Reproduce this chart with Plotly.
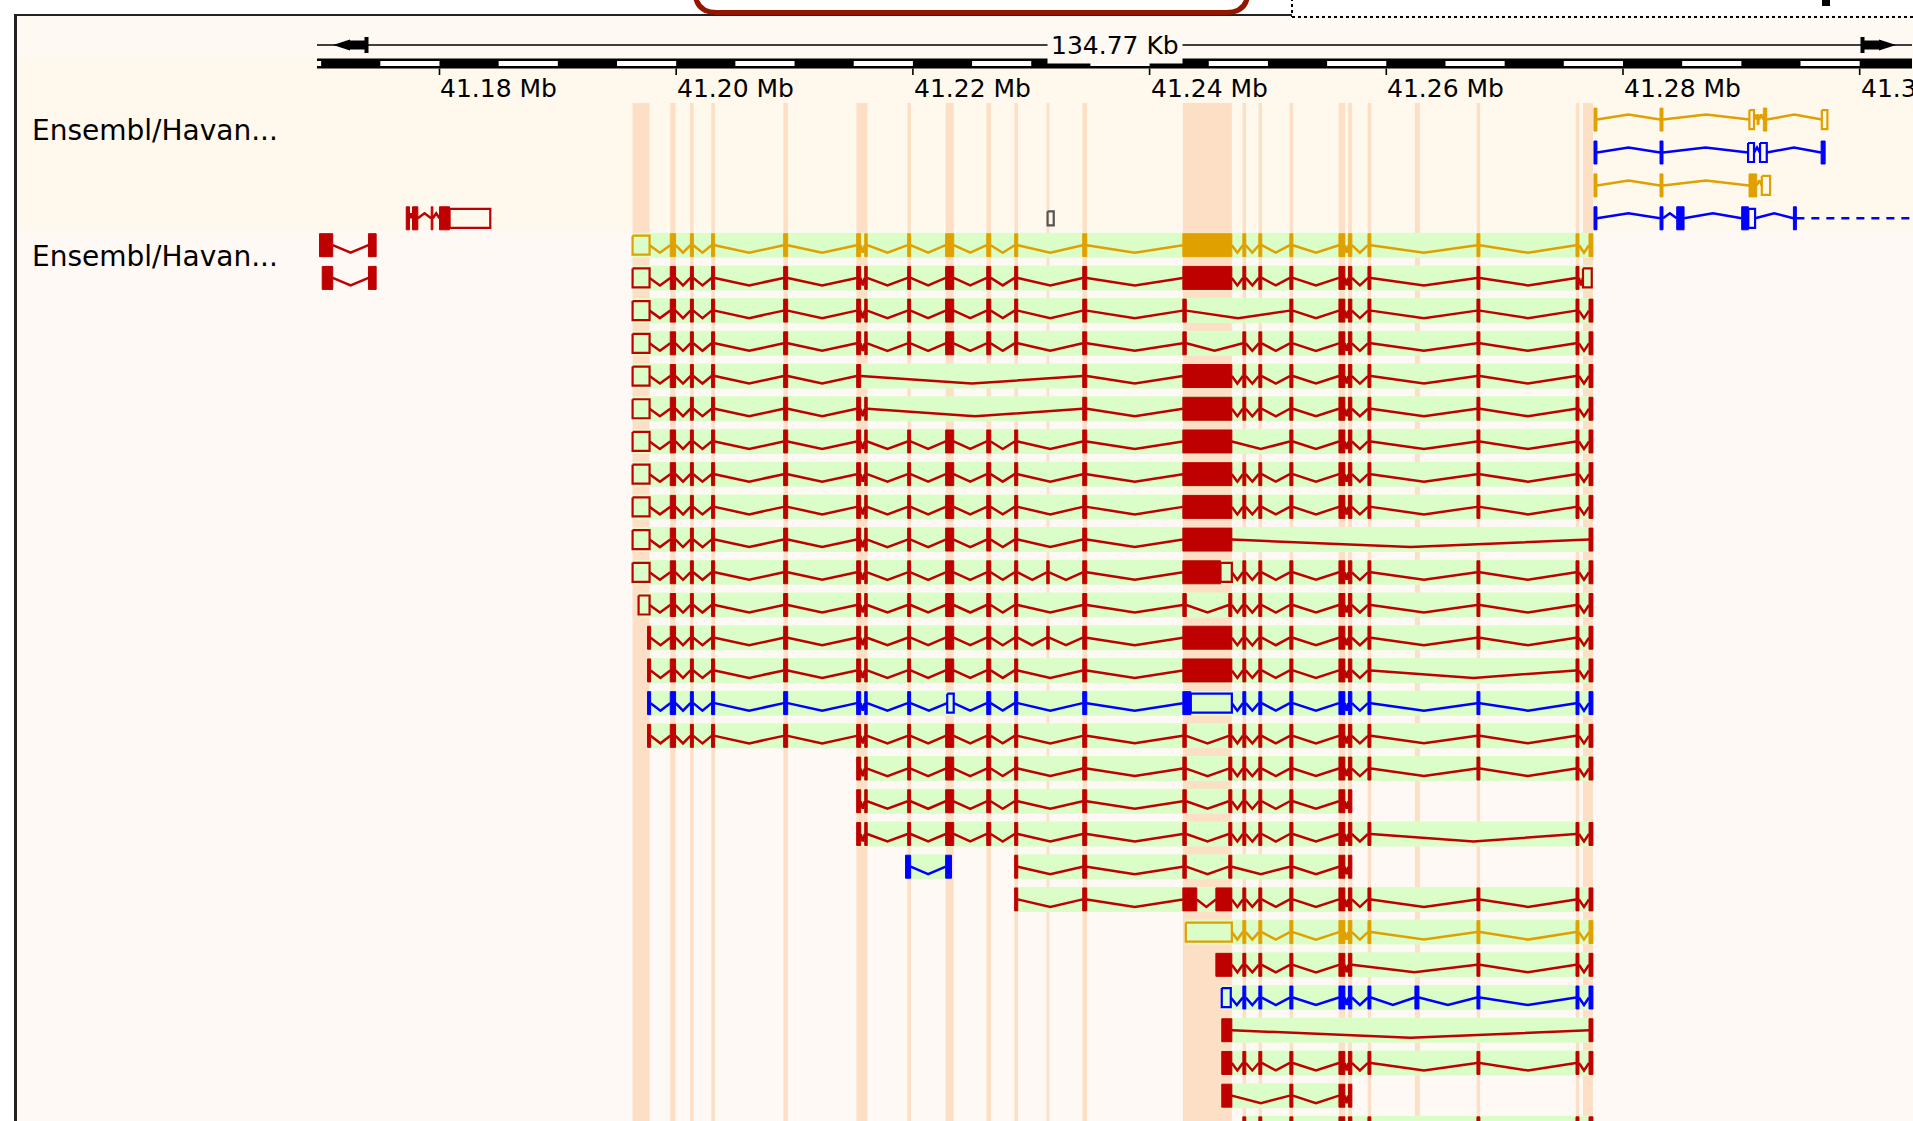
import plotly.graph_objects as go

W, H = 1913, 1121
START = 41.16965
SPAN = 0.13477
END = START + SPAN
PX0, PX1 = 317, 1912

RED, GOLD, BLUE, GREY = "#BE0000", "#E0A000", "#0000FF", "#555555"
GREEN_BAND = "#DBFDC8"
STRIPE = "#FDDFC5"
FONT = "DejaVu Sans"

# ---------------- data ----------------
EXONS = {
    "U0": (41.196315, 41.197751), "U0s": (41.196822, 41.197751), "S1": (41.19758, 41.19784),
    "E1": (41.19950, 41.19995), "E2": (41.20120, 41.20145), "E3": (41.20299, 41.20325),
    "E4": (41.20908, 41.20942), "E5a": (41.21525, 41.21559), "E5b": (41.21593, 41.21614),
    "E6": (41.21956, 41.21981), "E7": (41.22277, 41.22345), "U7": (41.22290, 41.22345),
    "E8": (41.22624, 41.22658), "E9": (41.22860, 41.22886), "EX": (41.23131, 41.23152),
    "E10": (41.23435, 41.23469), "E11": (41.24281, 41.24695),
    "E11s": (41.24281, 41.24310), "E11e": (41.24669, 41.24695),
    "E11a": (41.24281, 41.24599), "U11a": (41.24599, 41.24695),
    "E11b": (41.24281, 41.24399), "E11c": (41.24560, 41.24695),
    "U11d": (41.24306, 41.24695), "U11e": (41.24610, 41.24686), "E11f": (41.24610, 41.24695),
    "E11g": (41.24281, 41.24348), "U11g": (41.24348, 41.24695),
    "E12": (41.24788, 41.24813), "E13": (41.24923, 41.24948), "E14": (41.25185, 41.25211),
    "E15a": (41.25600, 41.25650), "E15b": (41.25680, 41.25709), "E16": (41.25845, 41.25870),
    "EB": (41.26242, 41.26276), "E17": (41.26766, 41.26791), "E18": (41.27603, 41.27628),
    "E19": (41.27713, 41.27746), "U19": (41.27662, 41.27736),
    "L1": (41.16986, 41.17098), "L1b": (41.17009, 41.17098), "L2": (41.17400, 41.17465),
    "B1": (41.21938, 41.21981), "B2": (41.22277, 41.22326),
    "F1": (41.27755, 41.27780), "F2": (41.28313, 41.28338),
    "UA3": (41.29068, 41.29107), "A4": (41.29133, 41.29150), "A5": (41.29186, 41.29215),
    "UA6": (41.29680, 41.29727),
    "UB3": (41.29057, 41.29107), "UB4": (41.29158, 41.29215), "B5": (41.29674, 41.29708),
    "C3": (41.29065, 41.29130), "UC4": (41.29173, 41.29243),
    "D3": (41.28454, 41.28516), "D4": (41.29003, 41.29059), "UD4": (41.29059, 41.29116),
    "D5": (41.29440, 41.29465),
    "R1": (41.17719, 41.17746), "R2": (41.17772, 41.17817), "R3": (41.17930, 41.17944),
    "R4": (41.18000, 41.18085), "UR4": (41.18085, 41.18429),
    "UG1": (41.23138, 41.23190),
}
SMALL = {"A4": 5, "UG1": 7}

MID = ["E1", "E2", "E3", "E4", "E5a", "E5b", "E6", "E7", "E8", "E9", "E10"]
TAIL = ["E12", "E13", "E14", "E15a", "E15b", "E16", "E17", "E18"]

TRACK2 = [
    (0, GOLD, ["U0"] + MID + ["E11"] + TAIL + ["E19"], True),
    (0, RED, ["L1", "L2"], False),
    (1, RED, ["U0"] + MID + ["E11"] + TAIL + ["U19"], True),
    (1, RED, ["L1b", "L2"], False),
    (2, RED, ["U0"] + MID + ["E11s", "E14", "E15a", "E15b", "E16", "E17", "E18", "E19"], True),
    (3, RED, ["U0"] + MID + ["E11s"] + TAIL + ["E19"], True),
    (4, RED, ["U0", "E1", "E2", "E3", "E4", "E5a", "E10", "E11"] + TAIL + ["E19"], True),
    (5, RED, ["U0", "E1", "E2", "E3", "E4", "E5a", "E5b", "E10", "E11"] + TAIL + ["E19"], True),
    (6, RED, ["U0"] + MID + ["E11", "E14", "E15a", "E15b", "E16", "E17", "E18", "E19"], True),
    (7, RED, ["U0"] + MID + ["E11"] + TAIL + ["E19"], True),
    (8, RED, ["U0"] + MID + ["E11"] + TAIL + ["E19"], True),
    (9, RED, ["U0"] + MID + ["E11", "E19"], True),
    (10, RED, ["U0"] + MID[:-1] + ["EX", "E10", "E11a", "U11a"] + TAIL + ["E19"], True),
    (11, RED, ["U0s"] + MID + ["E11s", "E11e"] + TAIL + ["E19"], True),
    (12, RED, ["S1"] + MID[:-1] + ["EX", "E10", "E11"] + TAIL + ["E19"], True),
    (13, RED, ["S1"] + MID + ["E11", "E12", "E13", "E14", "E15a", "E15b", "E16", "E18", "E19"], True),
    (14, BLUE, ["S1", "E1", "E2", "E3", "E4", "E5a", "E5b", "E6", "U7", "E8", "E9", "E10",
                "E11g", "U11g"] + TAIL + ["E19"], True),
    (15, RED, ["S1"] + MID + ["E11s", "E11e"] + TAIL + ["E19"], True),
    (16, RED, MID[4:] + ["E11s", "E11e"] + TAIL + ["E19"], True),
    (17, RED, MID[4:] + ["E11s", "E11e", "E12", "E13", "E14", "E15a", "E15b"], True),
    (18, RED, MID[4:] + ["E11s", "E11e", "E12", "E13", "E14", "E15a", "E15b", "E16", "E18", "E19"], True),
    (19, RED, ["E9", "E10", "E11s", "E11e", "E14", "E15a", "E15b"], True),
    (19, BLUE, ["B1", "B2"], True),
    (20, RED, ["E9", "E10", "E11b", "E11c"] + TAIL + ["E19"], True),
    (21, GOLD, ["U11d"] + TAIL + ["E19"], True),
    (22, RED, ["E11c", "E12", "E13", "E14", "E15a", "E15b", "E17", "E18", "E19"], True),
    (23, BLUE, ["U11e", "E12", "E13", "E14", "E15a", "E15b", "E16", "EB", "E17", "E18", "E19"], True),
    (24, RED, ["E11f", "E19"], True),
    (25, RED, ["E11f"] + TAIL + ["E19"], True),
    (26, RED, ["E11f", "E14", "E15a", "E15b"], True),
    (27, RED, TAIL + ["E19"], True),
]

TRACK1 = [
    (0, GOLD, ["F1", "F2", "UA3", "A4", "A5", "UA6"]),
    (1, BLUE, ["F1", "F2", "UB3", "UB4", "B5"]),
    (2, GOLD, ["F1", "F2", "C3", "UC4"]),
    (3, BLUE, ["F1", "F2", "D3", "D4", "UD4", "D5"]),
    (3, RED, ["R1", "R2", "R3", "R4", "UR4"]),
    (3, GREY, ["UG1"]),
]
DASH_ROW, DASH_COLOR, DASH_FROM = 3, BLUE, "D5"

STRIPES = [(41.196315, 41.197751), (41.19950, 41.19995), (41.20118, 41.20147), (41.20297, 41.20327),
           (41.20906, 41.20944), (41.21523, 41.21616), (41.21954, 41.21983), (41.22277, 41.22345),
           (41.22622, 41.22660), (41.22858, 41.22888), (41.23130, 41.23153), (41.23433, 41.23471),
           (41.24281, 41.24695), (41.24786, 41.24815), (41.24921, 41.24950), (41.25183, 41.25213),
           (41.25598, 41.25652), (41.25678, 41.25711), (41.25843, 41.25872), (41.26242, 41.26284),
           (41.26764, 41.26793), (41.27601, 41.27630), (41.27662, 41.27746)]

TICKS = [41.18, 41.20, 41.22, 41.24, 41.26, 41.28, 41.30]
TICK_LABELS = ["41.18 Mb", "41.20 Mb", "41.22 Mb", "41.24 Mb", "41.26 Mb", "41.28 Mb", "41.30 Mb"]
BLOCK = 0.005
SCALE_TEXT = "134.77 Kb"
TRACK_LABELS = ["Ensembl/Havan...", "Ensembl/Havan..."]

# ---------------- layout constants ----------------
T1_Y0, T1_PITCH = 119.6, 32.9
T2_Y0, T2_PITCH = 245.2, 32.71
BAND_H, EXON_H, BOX_H = 12.5, 11.5, 9.5


def P(px):
    return px / W


shapes = []
annotations = []


def rect(x0, x1, y0, y1, fill, xref="x", layer="below"):
    shapes.append(dict(type="rect", xref=xref, yref="y", x0=x0, x1=x1, y0=y0, y1=y1,
                       fillcolor=fill, line=dict(width=0), layer=layer))


def hline(x0, x1, y, color="black", width=2, xref="paper", dash="solid"):
    shapes.append(dict(type="line", xref=xref, yref="y", x0=x0, x1=x1, y0=y, y1=y,
                       line=dict(color=color, width=width, dash=dash), layer="above"))


def vline(x, y0, y1, color="black", width=2, xref="paper", dash="solid"):
    shapes.append(dict(type="line", xref=xref, yref="y", x0=x, x1=x, y0=y0, y1=y1,
                       line=dict(color=color, width=width, dash=dash), layer="above"))


# backgrounds
rect(P(16), 1, 15, 58, "#FEF9F3", xref="paper")
rect(P(16), 1, 58, 230, "#FFF8EC", xref="paper")
rect(P(16), 1, 230, H, "#FEF9F4", xref="paper")

# exon highlight stripes
for s, e in STRIPES:
    rect(s, e, 103, H, STRIPE)

lines = {}
fills = {}
boxes = {}


def acc(d, color):
    return d.setdefault(color, ([], []))


def add_transcript(keys, color, yc, direction, depth, band):
    ex = [EXONS[k] for k in keys]
    if band:
        rect(ex[0][0], ex[-1][1], yc - BAND_H, yc + BAND_H, GREEN_BAND)
    lx, ly = acc(lines, color)
    for a, b in zip(ex[:-1], ex[1:]):
        if b[0] - a[1] > 1e-6:
            lx += [a[1], (a[1] + b[0]) / 2, b[0], None]
            ly += [yc, yc + direction * depth, yc, None]
    for k, (s, e) in zip(keys, ex):
        if k.startswith("U"):
            h = SMALL.get(k, BOX_H)
            bx, by = acc(boxes, color)
            bx += [s, e, e, s, s, None]
            by += [yc - h, yc - h, yc + h, yc + h, yc - h, None]
        else:
            h = SMALL.get(k, EXON_H)
            fx, fy = acc(fills, color)
            fx += [s, e, e, s, s, None]
            fy += [yc - h, yc - h, yc + h, yc + h, yc - h, None]


for row, color, keys, band in TRACK2:
    add_transcript(keys, color, T2_Y0 + T2_PITCH * row, +1, 7.5, band)
for row, color, keys in TRACK1:
    add_transcript(keys, color, T1_Y0 + T1_PITCH * row, -1, 5, False)

traces = []
for color, (x, y) in lines.items():
    traces.append(go.Scatter(x=x, y=y, mode="lines", line=dict(color=color, width=2.5),
                             hoverinfo="skip"))
ydash = T1_Y0 + T1_PITCH * DASH_ROW
traces.append(go.Scatter(x=[EXONS[DASH_FROM][1], END], y=[ydash, ydash], mode="lines",
                         line=dict(color=DASH_COLOR, width=2.5, dash="8px,7px"), hoverinfo="skip"))
for color, (x, y) in fills.items():
    traces.append(go.Scatter(x=x, y=y, mode="lines", fill="toself", fillcolor=color,
                             line=dict(color=color, width=1), hoverinfo="skip"))
for color, (x, y) in boxes.items():
    traces.append(go.Scatter(x=x, y=y, mode="lines", line=dict(color=color, width=2.2),
                             hoverinfo="skip"))

# ---------------- ruler ----------------
shapes.append(dict(type="line", xref="x", yref="y", x0=START, x1=END, y0=45, y1=45,
                   line=dict(color="black", width=1.6), layer="above"))
shapes.append(dict(type="path", xref="paper", yref="y",
                   path=f"M {P(333)},45 L {P(350)},39.5 L {P(350)},50.5 Z",
                   fillcolor="black", line=dict(width=0), layer="above"))
rect(P(349), P(365), 40.5, 49.5, "black", xref="paper", layer="above")
rect(P(364.5), P(368.5), 37, 53, "black", xref="paper", layer="above")
rect(P(1860.5), P(1864.5), 37, 53, "black", xref="paper", layer="above")
rect(P(1864), P(1880), 40.5, 49.5, "black", xref="paper", layer="above")
shapes.append(dict(type="path", xref="paper", yref="y",
                   path=f"M {P(1879)},39.5 L {P(1896)},45 L {P(1879)},50.5 Z",
                   fillcolor="black", line=dict(width=0), layer="above"))
annotations.append(dict(x=(START + END) / 2, y=45, xref="x", yref="y", text=SCALE_TEXT,
                        showarrow=False, font=dict(family=FONT, size=25, color="black"),
                        bgcolor="#FEF9F3", borderpad=3, xanchor="center", yanchor="middle"))

rect(START, END, 58.5, 68.5, "black", layer="above")
k = int((START - 41.16) / BLOCK) - 1
while 41.16 + k * BLOCK < END:
    s = 41.16 + k * BLOCK
    if k % 2 == 1:
        a, b = max(s, START), min(s + BLOCK, END)
        if b > a:
            rect(a, b, 61.0, 66.0, "white", layer="above")
    k += 1
for t, lab in zip(TICKS, TICK_LABELS):
    shapes.append(dict(type="line", xref="x", yref="y", x0=t, x1=t, y0=68.5, y1=75,
                       line=dict(color="black", width=1.6), layer="above"))
    annotations.append(dict(x=t, y=88, xref="x", yref="y", text=lab, showarrow=False,
                            font=dict(family=FONT, size=25, color="black"),
                            xanchor="left", yanchor="middle", xshift=-1))

for lab, y in zip(TRACK_LABELS, [130.5, 256]):
    annotations.append(dict(x=P(30), y=y, xref="paper", yref="y", text=lab, showarrow=False,
                            font=dict(family=FONT, size=28, color="black"),
                            xanchor="left", yanchor="middle"))

# ---------------- frame & page decorations ----------------
vline(P(15.5), 15, H, color="#222222", width=3)
hline(P(14), P(1292), 15, color="#222222", width=2)
r = 22
x0p, x1p, yb = 695, 1248, 12.5
shapes.append(dict(type="path", xref="paper", yref="y", layer="above",
                   path=(f"M {P(x0p)},-30 L {P(x0p)},{yb - r} Q {P(x0p)},{yb} {P(x0p + r)},{yb} "
                         f"L {P(x1p - r)},{yb} Q {P(x1p)},{yb} {P(x1p)},{yb - r} L {P(x1p)},-30 Z"),
                   fillcolor="white", line=dict(color="#921500", width=5)))
vline(P(1292), -2, 17, color="black", width=2, dash="dot")
hline(P(1292), 1, 17, color="black", width=2, dash="dot")
rect(P(1822), P(1830), -2, 6, "black", xref="paper", layer="above")

fig = go.Figure(traces)
fig.update_layout(
    width=W, height=H, margin=dict(l=0, r=0, t=0, b=0),
    paper_bgcolor="white", plot_bgcolor="rgba(0,0,0,0)", showlegend=False,
    xaxis=dict(range=[START, END], domain=[P(PX0), P(PX1)], visible=False, fixedrange=True),
    yaxis=dict(range=[H, 0], domain=[0, 1], visible=False, fixedrange=True),
    shapes=shapes, annotations=annotations, hovermode=False,
)
fig.write_html("out.html", config={"displayModeBar": False, "staticPlot": True},
               post_script="document.body.style.margin='0';document.body.style.overflow='hidden';")
